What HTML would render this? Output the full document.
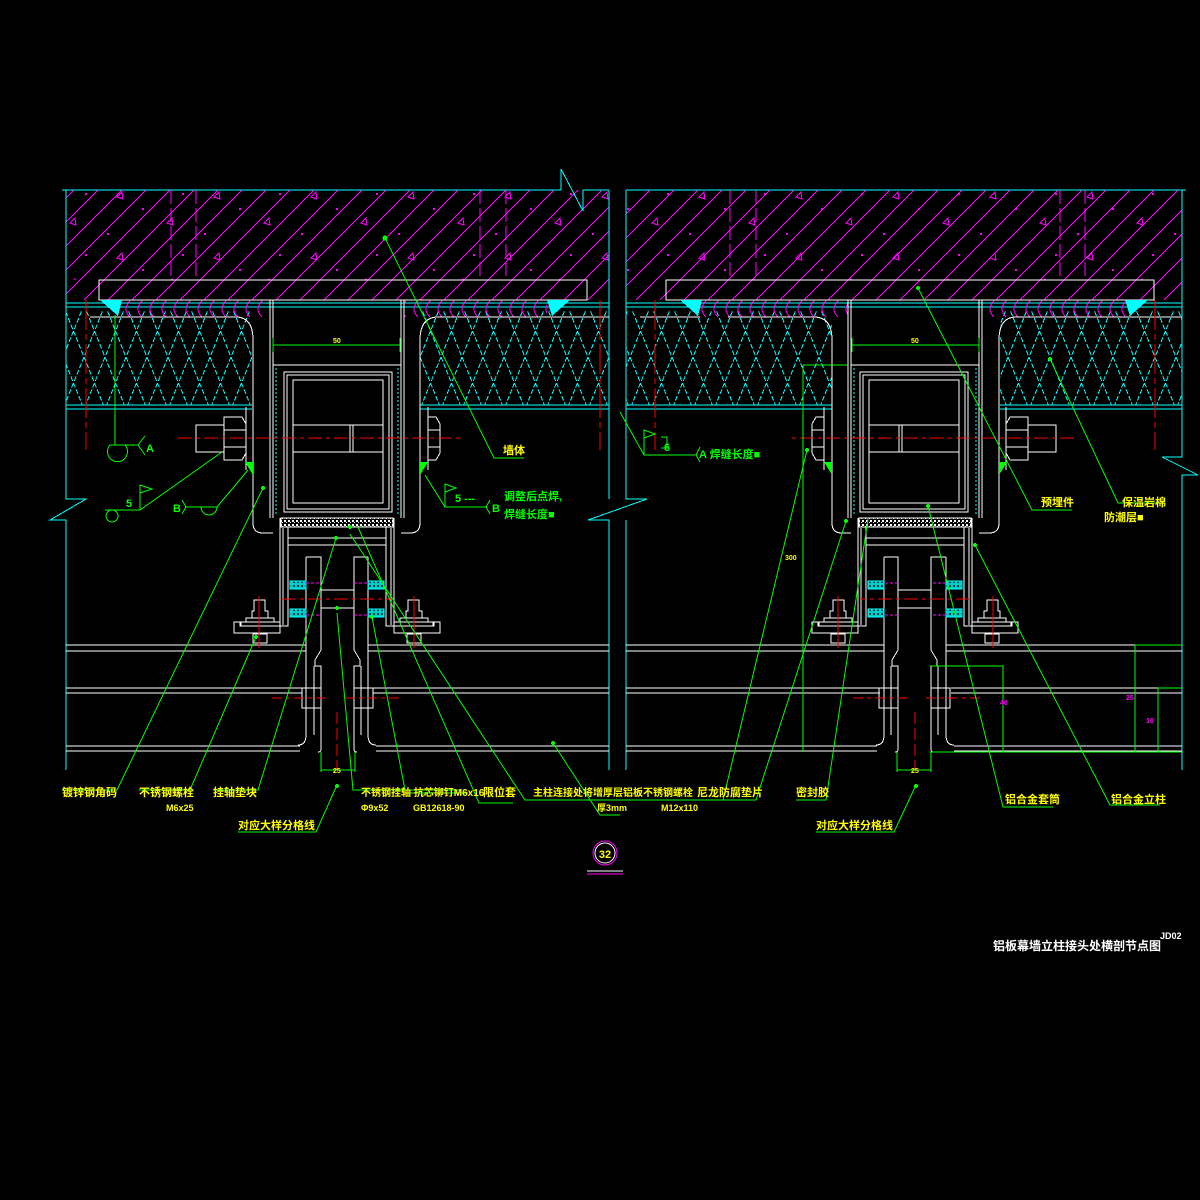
<!DOCTYPE html>
<html><head><meta charset="utf-8"><style>
html,body{margin:0;padding:0;background:#000;}
svg{display:block;}
text{font-family:"Liberation Sans","Noto Sans CJK SC",sans-serif;font-weight:bold;}
.y{fill:#ffff00;font-size:11px;}
.g{fill:#00ff00;font-size:11px;}
</style></head><body>
<svg width="1200" height="1200" viewBox="0 0 1200 1200" xmlns="http://www.w3.org/2000/svg" shape-rendering="crispEdges">
<defs>
<pattern id="hatch" width="24" height="24" patternUnits="userSpaceOnUse">
<path d="M0 24 L24 0 M-6 6 L6 -6 M18 30 L30 18" stroke="#ff00ff" stroke-width="1"/>
</pattern>
<pattern id="tri" width="97" height="61" patternUnits="userSpaceOnUse">
<path d="M20 14 l5 -5 l1 7 z M70 40 l5 -5 l1 7 z" fill="none" stroke="#ff00ff" stroke-width="1"/>
<rect x="45" y="25" width="2" height="2" fill="#ff00ff"/><rect x="85" y="10" width="2" height="2" fill="#ff00ff"/><rect x="10" y="50" width="2" height="2" fill="#ff00ff"/>
</pattern>
<pattern id="ins" width="21" height="104" patternUnits="userSpaceOnUse" y="305">
<path d="M0 0 L21 52 L0 104 M21 0 L0 52 L21 104" stroke="#00ffff" stroke-width="1" stroke-dasharray="5 2" fill="none"/>
</pattern>
<pattern id="arc" width="12" height="18" patternUnits="userSpaceOnUse" y="300">
<path d="M10 1 Q2 9 10 17" stroke="#ff00ff" fill="none" stroke-width="1"/>
</pattern>
<pattern id="dots" width="4" height="4" patternUnits="userSpaceOnUse">
<rect width="4" height="4" fill="#000"/><rect x="0" y="0" width="2" height="2" fill="#fff"/><rect x="2" y="2" width="1" height="1" fill="#fff"/>
</pattern>
<pattern id="cyd" width="4" height="4" patternUnits="userSpaceOnUse">
<rect width="4" height="4" fill="#00cccc"/><rect x="1" y="1" width="2" height="2" fill="#004444"/>
</pattern>

<g id="node" fill="none" stroke="#fff" stroke-width="1">
<path d="M270 300 V518 M273 300 V518 M404 300 V518 M401 300 V518"/>
<line x1="270" y1="300" x2="404" y2="300"/>
<line x1="273" y1="365" x2="401" y2="365"/>
<path d="M276 368 V515 M398 368 V515" stroke="#00ffff" stroke-dasharray="2 2"/>
<rect x="284" y="372" width="108" height="140"/>
<rect x="287" y="375" width="102" height="134"/>
<rect x="293" y="380" width="90" height="123"/>
<path d="M293 425 H383 M293 452 H383 M350 425 V452 M353 425 V452"/>
<path d="M273 345 H400 M273 338 V352 M400 338 V352" stroke="#00ff00"/>
<path d="M150 317 H236 Q253 317 253 340 V523 Q253 533 263 533 H273"/>
<path d="M246 407 V470"/>
<path d="M524 317 H438 Q420 317 420 340 V523 Q420 533 410 533 H401"/>
<path d="M428 407 V470"/>
<rect x="196" y="425" width="28" height="27"/>
<path d="M224 417 H242 L246 424 V453 L242 460 H224 Z M224 430 H246 M224 447 H246"/>
<path d="M428 417 H436 L440 424 V453 L436 460 H428 M428 430 H440 M428 447 H440"/>
<rect x="281" y="518" width="112" height="9" fill="url(#dots)" stroke="#fff"/>
<path d="M280 518 V633 H234 V622 H241 V626 H288 V527"/>
<path d="M394 518 V633 H440 V622 H433 V626 H386 V527"/>
<path d="M288 527 H386 M288 538 H386 M288 545 H386"/>
<path d="M283 528 V625 M391 528 V625"/>
<path d="M306 557 H321 V650 L315 660 V666 H321 V749 Q321 752 318 752 M306 557 V735 Q306 745 298 745 M314 666 V735"/>
<path d="M368 557 H354 V650 L360 660 V666 H354 V749 Q354 752 357 752 M368 557 V735 Q368 745 376 745 M361 666 V735"/>
<path d="M321 590 H354 M321 608 H354"/>
<path d="M302 688 H321 V708 H302 Z M373 688 H354 V708 H373 Z"/>
<rect x="290" y="581" width="16" height="8" fill="url(#cyd)" stroke="#00ffff"/>
<rect x="290" y="609" width="16" height="8" fill="url(#cyd)" stroke="#00ffff"/>
<rect x="368" y="581" width="16" height="8" fill="url(#cyd)" stroke="#00ffff"/>
<rect x="368" y="609" width="16" height="8" fill="url(#cyd)" stroke="#00ffff"/>
<path d="M306 583 H321 M306 615 H321 M354 583 H368 M354 615 H368" stroke="#ff00ff" stroke-dasharray="3 2"/>
<path d="M254 600 H265 V611 H268 V618 H252 V611 H254 Z M246 618 H274 V622 H246 Z M240 622 H280 V626 H240 Z"/>
<path d="M253 634 H267 V643 H253 Z"/>
<path d="M408 600 H419 V611 H422 V618 H406 V611 H408 Z M400 618 H428 V622 H400 Z M394 622 H434 V626 H394 Z"/>
<path d="M407 634 H421 V643 H407 Z"/>
<path d="M178 438 H460" stroke="#ff0000" stroke-dasharray="14 4 4 4"/>
<path d="M282 599 H392" stroke="#ff0000" stroke-dasharray="14 4 4 4"/>
<path d="M259 596 V648 M414 596 V648" stroke="#ff0000"/>
<path d="M272 698 H330 M345 698 H402" stroke="#ff0000" stroke-dasharray="10 4 4 4"/>
<path d="M337 712 V770" stroke="#ff0000" stroke-dasharray="12 4"/>
<path d="M321 752 V772 M355 752 V772 M321 770 H355" stroke="#00ff00"/>
<path d="M245 462 L253 462 L253 475 Z M420 462 L428 462 L420 475 Z" fill="#00ff00" stroke="none"/>
</g>
</defs>

<rect x="66" y="190" width="543" height="110" fill="url(#hatch)"/>
<rect x="626" y="190" width="556" height="110" fill="url(#hatch)"/>
<rect x="66" y="190" width="543" height="90" fill="url(#tri)"/>
<rect x="626" y="190" width="556" height="90" fill="url(#tri)"/>
<path d="M171 190 V280 M196 190 V280 M480 190 V280 M506 190 V280 M730 190 V280 M756 190 V280 M1060 190 V280 M1085 190 V280" stroke="#ff00ff" stroke-dasharray="14 4"/>
<g stroke="#00ffff" fill="none" stroke-width="1">
<path d="M62 190 H561 V169 L583 211 V190 H609 M626 190 H1186"/>
<path d="M66 190 V499 H86 L50 520 H66 V770"/>
<path d="M609 190 V499 M626 190 V499 H647 L588 520 H609 V770 M626 520 V770"/>
<path d="M1182 190 V457 H1162 L1198 475 H1182 V770"/>
<path d="M66 303 H609 M66 307 H609 M66 405 H252 M66 409 H252 M420 405 H609 M420 409 H609"/>
<path d="M626 303 H1182 M626 307 H1182 M626 405 H832 M626 409 H832 M1000 405 H1182 M1000 409 H1182"/>
</g>
<rect x="99" y="280" width="488" height="20" fill="none" stroke="#fff"/>
<rect x="666" y="280" width="488" height="20" fill="none" stroke="#fff"/>
<rect x="66" y="310" width="186" height="95" fill="url(#ins)"/>
<rect x="420" y="310" width="189" height="95" fill="url(#ins)"/>
<rect x="626" y="310" width="206" height="95" fill="url(#ins)"/>
<rect x="1000" y="310" width="182" height="95" fill="url(#ins)"/>
<rect x="122" y="300" width="148" height="17" fill="url(#arc)"/>
<rect x="404" y="300" width="143" height="17" fill="url(#arc)"/>
<rect x="700" y="300" width="148" height="17" fill="url(#arc)"/>
<rect x="982" y="300" width="143" height="17" fill="url(#arc)"/>
<path d="M100 300 H122 L118 316 Z M547 300 H570 L552 316 Z M680 300 H702 L698 316 Z M1125 300 H1148 L1130 316 Z" fill="#00ffff"/>
<path d="M90 317 H150 M524 317 H609 M640 317 H700 M1100 317 H1182" stroke="#fff"/>
<path d="M86 300 V450 M600 300 V450 M1155 300 V450 M655 300 V450" stroke="#ff0000" stroke-dasharray="30 4 6 4"/>

<g stroke="#fff" stroke-width="1">
<path d="M66 645 H306 M66 651 H306 M368 645 H609 M368 651 H609 M66 688 H302 M66 693 H302 M373 688 H609 M373 693 H609 M66 746 H300 M66 751 H300 M376 746 H609 M376 751 H609"/>
<path d="M626 645 H884 M626 651 H884 M946 645 H1182 M946 651 H1182 M626 688 H880 M626 693 H880 M951 688 H1182 M951 693 H1182 M626 746 H877 M626 751 H877 M954 746 H1182 M954 751 H1182"/>
</g>

<use href="#node"/>
<use href="#node" transform="translate(1252,0) scale(-1,1)"/>

<g stroke="#00ff00" fill="none" stroke-width="1" shape-rendering="auto">
<path d="M385 238 L494 458 H524"/>
<path d="M115 315 V445 H110 A10 10 0 1 0 125 445 M110 445 H138 M145 436 L138 445 L145 455"/>
<path d="M105 510 H140 M112 510 a6 6 0 1 0 0.1 0 M140 510 V485 L152 489 L140 493 M140 510 L222 452"/>
<path d="M248 470 L217 507 H185 M217 507 a8 8 0 0 1 -16 0 M182 500 L186 507 L182 514"/>
<path d="M425 475 L445 507 H487 M445 507 V484 L456 488 L445 492 M490 500 L486 507 L490 514"/>
<path d="M263 488 L117 790 H62"/>
<path d="M256 637 L190 790 H139"/>
<path d="M336 538 L258 790 H213"/>
<path d="M337 613 L353 790 H462"/>
<path d="M372 617 L405 790 M405 793 H468"/>
<path d="M358 527 L479 803 H513"/>
<path d="M350 534 L525 800 H620"/>
<path d="M553 743 L600 815 H620"/>
<path d="M337 785 L316 832 H238"/>
<path d="M918 288 L1032 510 H1072"/>
<path d="M1050 359 L1118 503 H1162"/>
<path d="M620 412 L644 455 H695 M644 455 V430 L655 434 L644 438 M661 437 H667 V448 H661 M700 447 L696 455 L700 462"/>
<path d="M807 450 L723 800 H610"/>
<path d="M846 521 L756 800 H696"/>
<path d="M868 519 L826 800 H796"/>
<path d="M916 785 L894 832 H816"/>
<path d="M928 506 L1003 807 H1053"/>
<path d="M975 545 L1110 805 H1160"/>
<path d="M803 365 V752 M803 365 H848"/>
<path d="M930 666 H1003 V752 M1135 645 V752 M1158 688 V752 M1135 645 H1182 M1158 688 H1182 M930 752 H1182"/>
<path d="M897 752 V772 M931 752 V772 M897 770 H931"/>
</g>
<g fill="#00ff00">
<circle cx="385" cy="238" r="2.5"/><circle cx="263" cy="488" r="2"/><circle cx="256" cy="637" r="2"/>
<circle cx="336" cy="538" r="2"/><circle cx="337" cy="608" r="2"/><circle cx="372" cy="617" r="2"/>
<circle cx="350" cy="527" r="2"/><circle cx="553" cy="743" r="2"/><circle cx="337" cy="786" r="2"/>
<circle cx="918" cy="288" r="2"/><circle cx="1050" cy="359" r="2"/><circle cx="807" cy="450" r="2"/>
<circle cx="846" cy="521" r="2"/><circle cx="916" cy="786" r="2"/><circle cx="928" cy="506" r="2"/><circle cx="975" cy="545" r="2"/>
</g>

<text class="g" x="146" y="452">A</text>
<text class="g" x="126" y="507">5</text>
<text class="g" x="173" y="512">B</text>
<text class="g" x="455" y="502">5 ---</text>
<text class="g" x="492" y="512">B</text>
<text class="g" x="504" y="500" font-size="10">调整后点焊,</text>
<text class="g" x="504" y="518" font-size="10">焊缝长度■</text>
<text class="g" x="664" y="451">6</text>
<text class="g" x="699" y="458">A 焊缝长度■</text>

<g class="y">
<text x="333" y="343" font-size="7">50</text>
<text x="911" y="343" font-size="7">50</text>
<text x="503" y="454">墙体</text>
<text x="1041" y="506">预埋件</text>
<text x="1122" y="506">保温岩棉</text>
<text x="1104" y="521">防潮层■</text>
<text x="62" y="796">镀锌钢角码</text>
<text x="139" y="796">不锈钢螺栓</text>
<text x="166" y="811" font-size="9">M6x25</text>
<text x="213" y="796">挂轴垫块</text>
<text x="361" y="796" font-size="10">不锈钢挂轴 抗芯铆钉M6x16</text>
<text x="361" y="811" font-size="9">Φ9x52</text>
<text x="413" y="811" font-size="9">GB12618-90</text>
<text x="483" y="796">限位套</text>
<text x="533" y="796" font-size="10">主柱连接处将增厚层铝板不锈钢螺栓</text>
<text x="597" y="811" font-size="9">厚3mm</text>
<text x="661" y="811" font-size="9">M12x110</text>
<text x="697" y="796">尼龙防腐垫片</text>
<text x="796" y="796">密封胶</text>
<text x="1005" y="803">铝合金套筒</text>
<text x="1111" y="803">铝合金立柱</text>
<text x="238" y="829">对应大样分格线</text>
<text x="816" y="829">对应大样分格线</text>
<text x="333" y="773" font-size="7">25</text>
<text x="911" y="773" font-size="7">25</text>
<text x="785" y="560" font-size="7">300</text>
</g>
<text x="1000" y="705" font-size="7" fill="#ff00ff">40</text>
<text x="1126" y="700" font-size="7" fill="#ff00ff">25</text>
<text x="1146" y="723" font-size="7" fill="#ff00ff">10</text>

<circle cx="605" cy="853" r="12" fill="none" stroke="#ff00ff" shape-rendering="auto"/>
<circle cx="605" cy="853" r="10" fill="none" stroke="#fff" shape-rendering="auto"/>
<text x="605" y="858" text-anchor="middle" class="y" font-size="12">32</text>
<path d="M587 871 H623" stroke="#fff"/>
<path d="M587 874 H623" stroke="#ff00ff"/>

<text x="993" y="950" fill="#fff" font-size="12">铝板幕墙立柱接头处横剖节点图</text>
<text x="1160" y="939" fill="#fff" font-size="9">JD02</text>
</svg>
</body></html>
